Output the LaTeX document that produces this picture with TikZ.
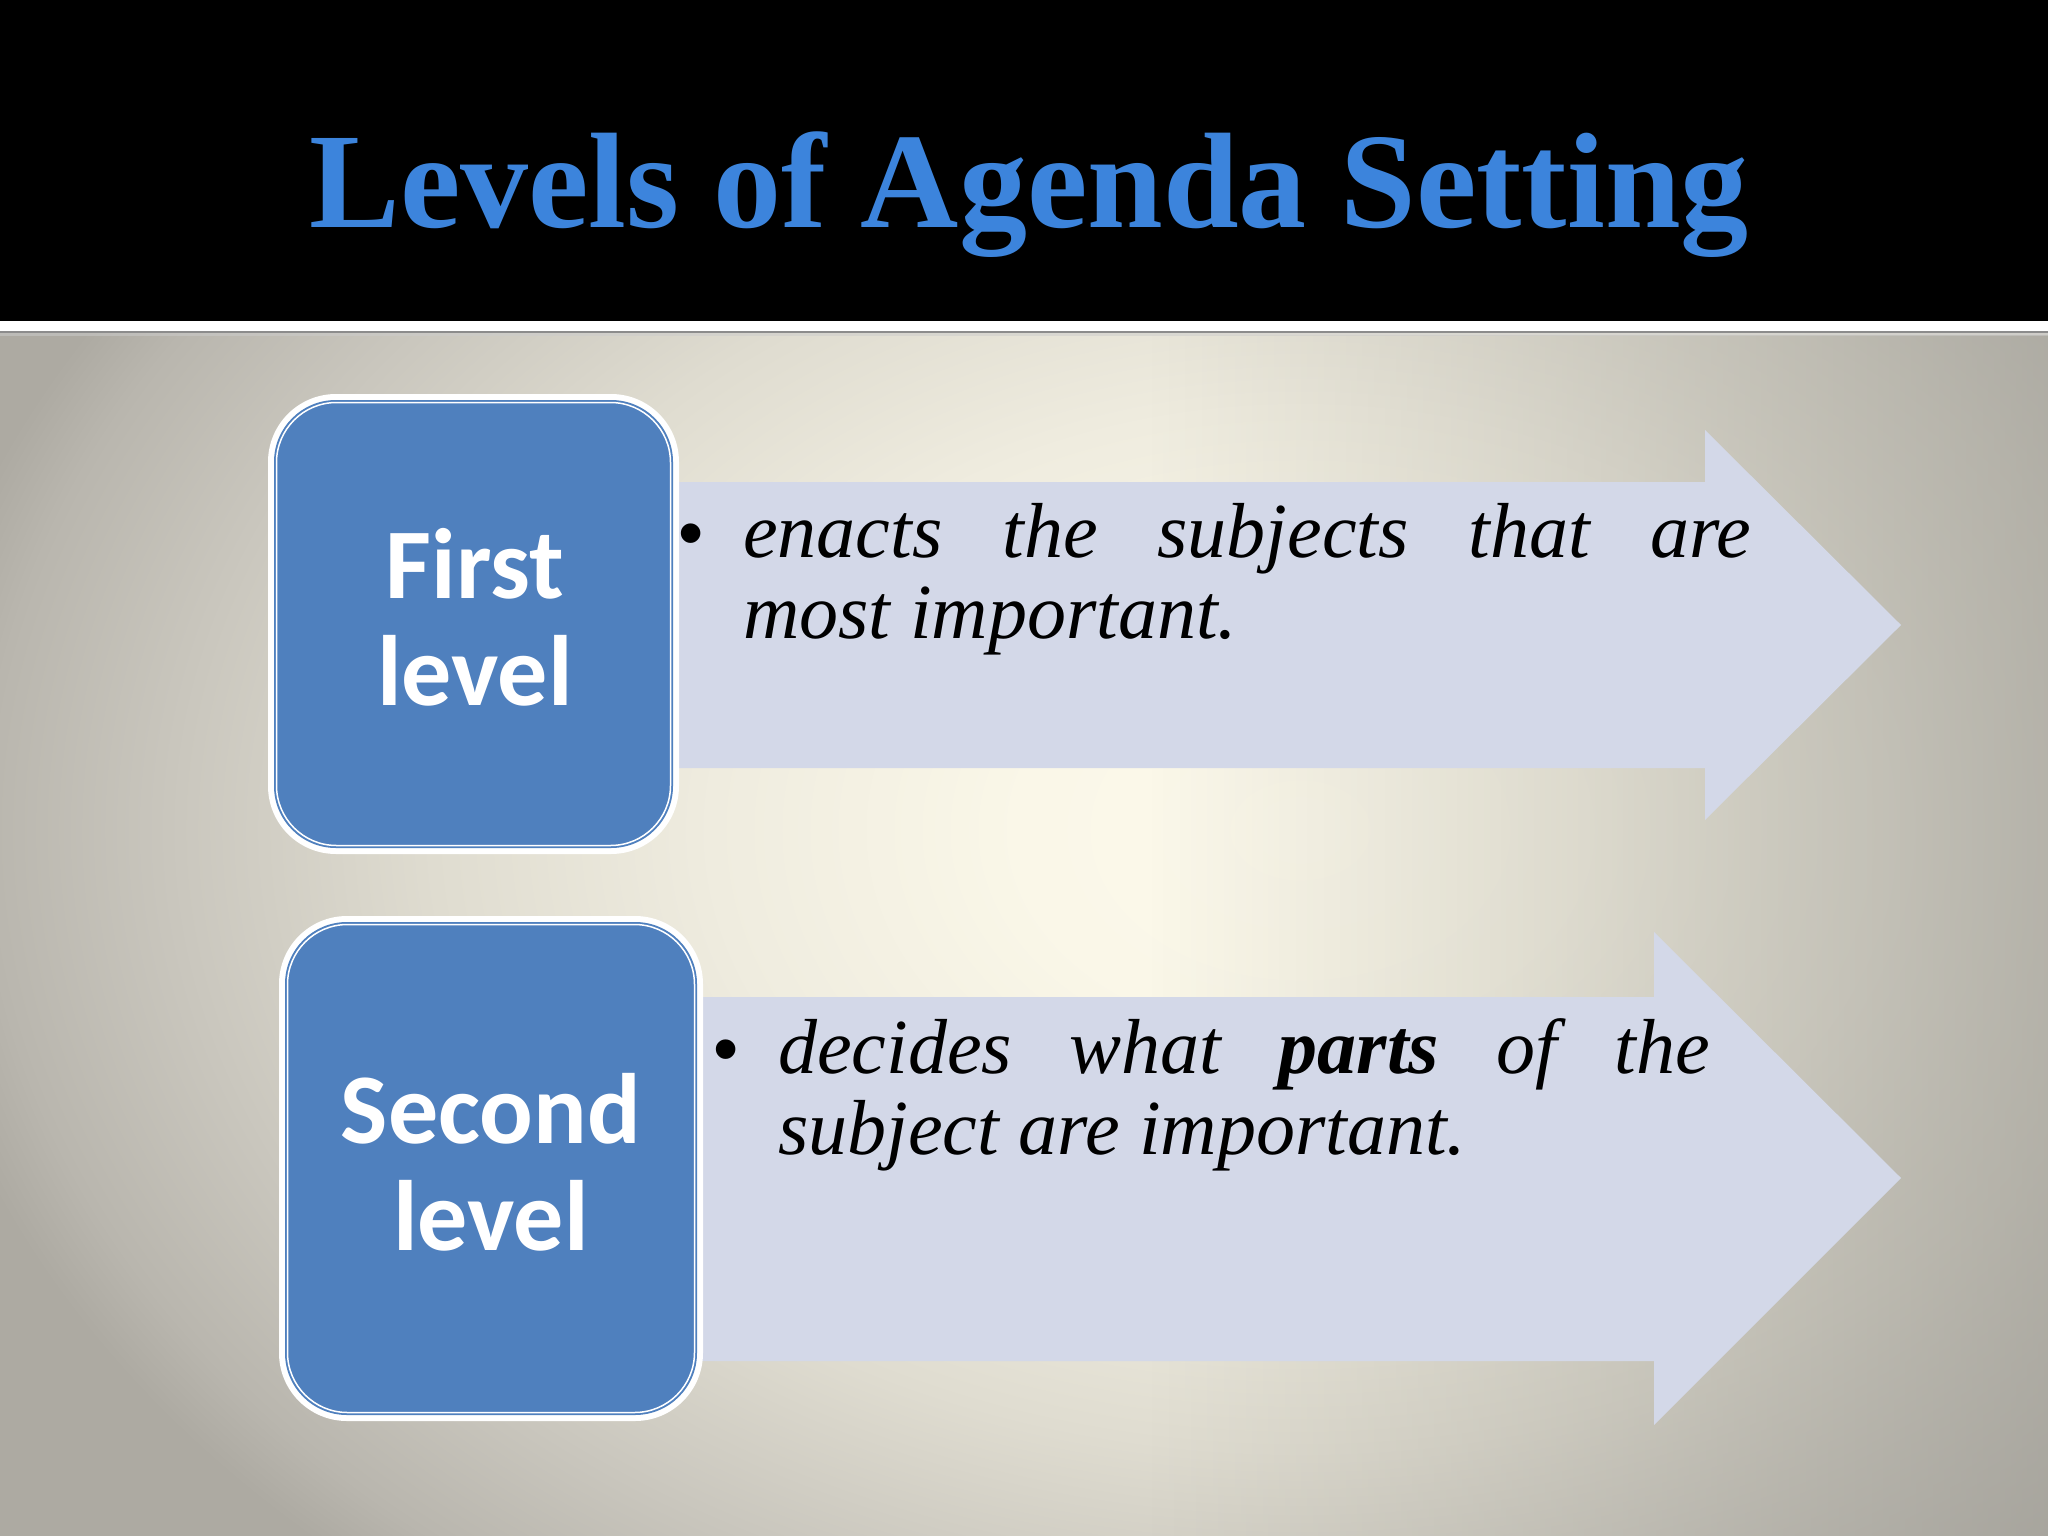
\documentclass[tikz,border=0pt]{standalone}
\usepackage{fontspec}
\setmainfont{Liberation Serif}
\newfontfamily\boxfont{Carlito}
\newfontfamily\bulletfont{Liberation Sans}
\usetikzlibrary{fadings}
\definecolor{titleblue}{HTML}{3C84DC}
\definecolor{boxblue}{HTML}{4F80BE}
\definecolor{arrowfill}{HTML}{D3D8E8}
\definecolor{bgA}{HTML}{FCF9EB}
\definecolor{bgB}{HTML}{FAF7E8}
\definecolor{bgC}{HTML}{EFECDF}
\definecolor{bgD}{HTML}{DFDCD0}
\definecolor{bgE}{HTML}{CAC7BE}
\definecolor{bgF}{HTML}{B9B6AE}
\definecolor{bgG}{HTML}{ADAAA2}
\definecolor{sidegray}{HTML}{9A9891}
\pgfdeclareradialshading{bgshade}{\pgfpoint{0bp}{0bp}}{color(0bp)=(bgA); color(5bp)=(bgB); color(10.5bp)=(bgC); color(15.5bp)=(bgD); color(20bp)=(bgE); color(23.5bp)=(bgF); color(25bp)=(bgG); color(50bp)=(bgG)}
\tikzfading[name=rampright, left color=transparent!100, right color=transparent!15]
\tikzset{
  lvlframe/.style={fill=white, rounded corners=68pt, inner sep=0pt,
    path picture={
      \fill[boxblue, rounded corners=62pt]
        ([shift={(6pt,-6pt)}]path picture bounding box.north west) rectangle
        ([shift={(-6pt,6pt)}]path picture bounding box.south east);
      \draw[white, line width=1.5pt, rounded corners=60pt]
        ([shift={(8.5pt,-8.5pt)}]path picture bounding box.north west) rectangle
        ([shift={(-8.5pt,8.5pt)}]path picture bounding box.south east);
    }},
  lvllabel/.style={text=white, font=\boxfont\bfseries\fontsize{100}{107}\selectfont,
    align=center, text width=400pt, inner sep=0pt, anchor=base},
  bodytext/.style={font=\fontsize{78}{81}\selectfont\itshape, inner sep=0pt, anchor=base west},
  arrowshape/.style={fill=arrowfill}
}
\newcommand{\bul}{\makebox[65pt][l]{\bulletfont\upshape\fontsize{72}{72}\selectfont •}}
\begin{document}
\begin{tikzpicture}[x=1pt,y=-1pt]
\useasboundingbox (0,0) rectangle (2048,1536);
% background
\begin{scope}
  \clip (0,331) rectangle (2048,1536);
  \shade[shading=bgshade] (-100,-170) rectangle (2700,1830);
  \fill[sidegray, path fading=rampright] (1151,331) rectangle (2347,1536);
\end{scope}
\fill[black] (0,0) rectangle (2048,321);
\fill[white] (0,321) rectangle (2048,331);
\fill[black!45] (0,331) rectangle (2048,333);
\fill[black!20, opacity=0.5] (0,333) rectangle (2048,336);
% title
\node[font=\bfseries\fontsize{136}{150}\selectfont, text=titleblue, anchor=base, inner sep=0pt] (title) at (1029,227) {Levels of Agenda Setting};
% arrows
\fill[arrowshape] (620,482) -- (1705,482) -- (1705,430) -- (1901,625) -- (1705,820) -- (1705,768) -- (620,768) -- cycle;
\fill[arrowshape] (640,997) -- (1654,997) -- (1654,932) -- (1901,1178) -- (1654,1425) -- (1654,1361) -- (640,1361) -- cycle;
% boxes
\node[lvlframe, minimum width=411pt, minimum height=460pt] (box1) at (473.5,624) {};
\node[lvllabel] (lab1) at (475,598) {First\\level};
\node[lvlframe, minimum width=424pt, minimum height=505pt] (box2) at (491,1168.5) {};
\node[lvllabel] (lab2) at (491,1143) {Second\\level};
% texts
\node[bodytext] (txt1) at (678,557) {\bul\parbox[t]{1008pt}{enacts the subjects that are\linebreak most important.}};
\node[bodytext] (txt2) at (713,1073) {\bul\parbox[t]{932pt}{decides what \textbf{parts} of the\linebreak subject are important.}};
\end{tikzpicture}
\end{document}
